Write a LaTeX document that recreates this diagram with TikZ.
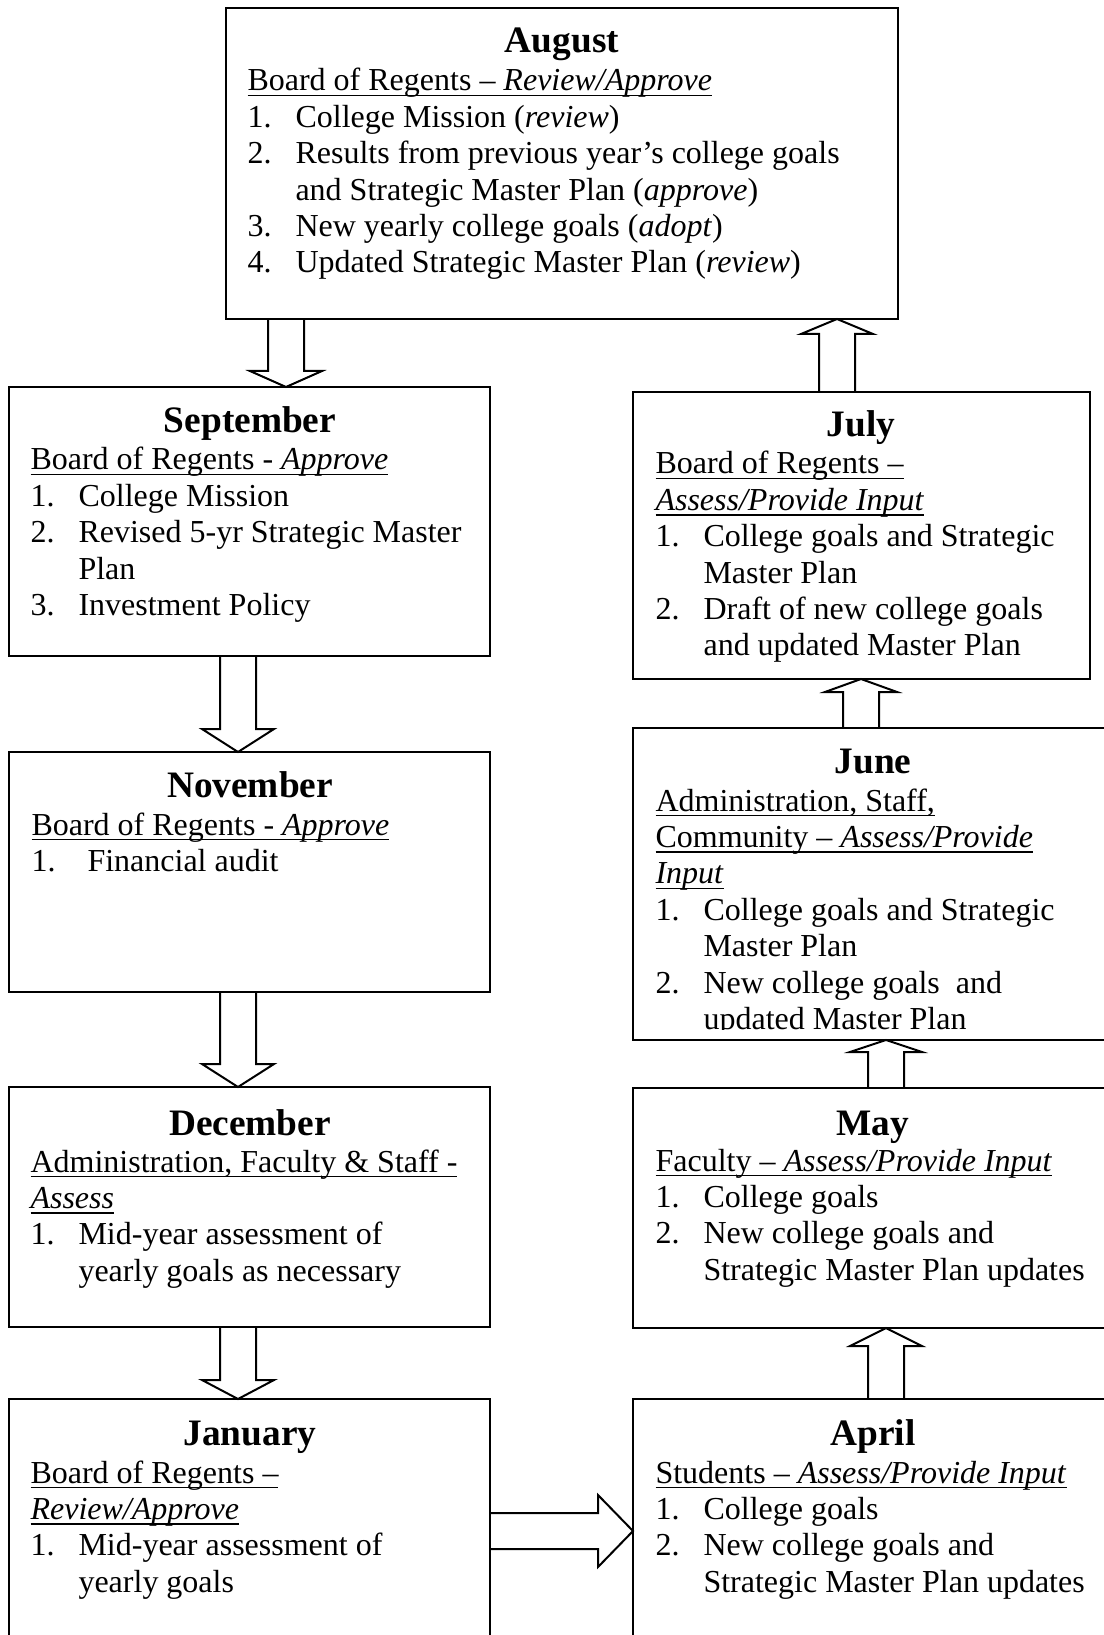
\documentclass[tikz,border=0pt]{standalone}
\usepackage{fontspec}
\setmainfont{Liberation Serif}
\usetikzlibrary{fit}

\newsavebox{\planulbox}
\newcommand{\planul}[1]{\leavevmode\sbox{\planulbox}{#1}\rlap{\rule[-2pt]{\wd\planulbox}{0.55pt}}\usebox{\planulbox}}
\newcommand{\listnum}[2]{\makebox[18pt][l]{#1}#2}
\newcommand{\listcont}[1]{\hspace*{18pt}#1}
\newcommand{\planlines}[1]{\parbox[t]{250pt}{#1}}

% hollow block arrows: start anchor, tip anchor, centre line, head length
\newcommand{\blockv}[4]{%
  \path (#2) ++(0,#4) coordinate (head_base);
  \draw[plan_arrow] ({#3-18},0 |- #1) -- ({#3-18},0 |- head_base) -- ({#3-36},0 |- head_base)
    -- ({#3},0 |- #2) -- ({#3+36},0 |- head_base) -- ({#3+18},0 |- head_base) -- ({#3+18},0 |- #1);}
\newcommand{\blockh}[4]{%
  \path (#2) ++(#4,0) coordinate (head_base);
  \draw[plan_arrow] (#1 |- 0,{#3-18}) -- (head_base |- 0,{#3-18}) -- (head_base |- 0,{#3-36})
    -- (#2 |- 0,#3) -- (head_base |- 0,{#3+36}) -- (head_base |- 0,{#3+18}) -- (#1 |- 0,{#3+18});}

\begin{document}
\begin{tikzpicture}[x=0.375pt, y=-0.375pt]
  \tikzstyle{plan_box}   = [draw = black, line width = 1pt, inner sep = 0pt, outer sep = 0pt]
  \tikzstyle{plan_title} = [anchor = base, inner sep = 0pt, font = \fontsize{14}{16}\selectfont\bfseries]
  \tikzstyle{plan_text}  = [anchor = base west, inner sep = 0pt, font = \fontsize{12}{13.65}\selectfont]
  \tikzstyle{plan_arrow} = [draw = black, line width = 0.75pt, line join = miter]

  \useasboundingbox (0,0) rectangle (1104,1635);
  \clip (0,0) rectangle (1104,1635);

  \node[plan_box, fit = {(226,8) (898,319)}] (aug) {};
  \node[plan_title] at (562, 53) (aug_ttl) {August};
  \node[plan_text]  at (247, 91) (aug_txt) {\planlines{%
    \planul{Board of Regents -- \textit{Review/Approve}}\\
    \listnum{1.}{College Mission (\textit{review})}\\
    \listnum{2.}{Results from previous year’s college goals}\\
    \listcont{and Strategic Master Plan (\textit{approve})}\\
    \listnum{3.}{New yearly college goals (\textit{adopt})}\\
    \listnum{4.}{Updated Strategic Master Plan (\textit{review})}}};

  \node[plan_box, fit = {(9,387) (490,656)}] (sep) {};
  \node[plan_title] at (250, 433) (sep_ttl) {September};
  \node[plan_text]  at (30, 470) (sep_txt) {\planlines{%
    \planul{Board of Regents - \textit{Approve}}\\
    \listnum{1.}{College Mission}\\
    \listnum{2.}{Revised 5-yr Strategic Master}\\
    \listcont{Plan}\\
    \listnum{3.}{Investment Policy}}};

  \node[plan_box, fit = {(9,752) (490,992)}] (nov) {};
  \node[plan_title] at (250, 797) (nov_ttl) {November};
  \node[plan_text]  at (31, 835) (nov_txt) {\planlines{%
    \planul{Board of Regents - \textit{Approve}}\\
    \makebox[21pt][l]{1.}Financial audit}};

  \node[plan_box, fit = {(9,1087) (490,1327)}] (dec) {};
  \node[plan_title] at (250, 1135) (dec_ttl) {December};
  \node[plan_text]  at (30, 1172) (dec_txt) {\planlines{%
    \planul{Administration, Faculty \& Staff -}\\
    \planul{\textit{Assess}}\\
    \listnum{1.}{Mid-year assessment of}\\
    \listcont{yearly goals as necessary}}};

  \node[plan_box, fit = {(9,1399) (490,1700)}] (jan) {};
  \node[plan_title] at (250, 1445) (jan_ttl) {January};
  \node[plan_text]  at (30, 1483) (jan_txt) {\planlines{%
    \planul{Board of Regents --}\\
    \planul{\textit{Review/Approve}}\\
    \listnum{1.}{Mid-year assessment of}\\
    \listcont{yearly goals}}};

  \node[plan_box, fit = {(633,1399) (1113,1700)}] (apr) {};
  \node[plan_title] at (873, 1445) (apr_ttl) {April};
  \node[plan_text]  at (655, 1483) (apr_txt) {\planlines{%
    \planul{Students -- \textit{Assess/Provide Input}}\\
    \listnum{1.}{College goals}\\
    \listnum{2.}{New college goals and}\\
    \listcont{Strategic Master Plan updates}}};

  \node[plan_box, fit = {(633,1088) (1113,1328)}] (may) {};
  \node[plan_title] at (873, 1135) (may_ttl) {May};
  \node[plan_text]  at (655, 1171) (may_txt) {\planlines{%
    \planul{Faculty -- \textit{Assess/Provide Input}}\\
    \listnum{1.}{College goals}\\
    \listnum{2.}{New college goals and}\\
    \listcont{Strategic Master Plan updates}}};

  \node[plan_box, fit = {(633,728) (1113,1040)}] (jun) {};
  \node[plan_title] at (873, 773) (jun_ttl) {June};
  \begin{scope}
    \clip (633,728) rectangle (1113,1029);
    \node[plan_text] at (655, 811) (jun_txt) {\planlines{%
      \planul{Administration, Staff,}\\
      \planul{Community -- \textit{Assess/Provide}}\\
      \planul{\textit{Input}}\\
      \listnum{1.}{College goals and Strategic}\\
      \listcont{Master Plan}\\
      \listnum{2.}{New college goals\ \ and}\\
      \listcont{updated Master Plan}}};
  \end{scope}

  \node[plan_box, fit = {(633,392) (1090,679)}] (jul) {};
  \node[plan_title] at (861, 437) (jul_ttl) {July};
  \node[plan_text]  at (655, 474) (jul_txt) {\planlines{%
    \planul{Board of Regents --}\\
    \planul{\textit{Assess/Provide Input}}\\
    \listnum{1.}{College goals and Strategic}\\
    \listcont{Master Plan}\\
    \listnum{2.}{Draft of new college goals}\\
    \listcont{and updated Master Plan}}};

  \blockv{aug.south}{sep.north}{286}{-16}
  \blockv{sep.south}{nov.north}{238}{-23}
  \blockv{nov.south}{dec.north}{238}{-23}
  \blockv{dec.south}{jan.north}{238}{-19}
  \blockh{jan.east}{apr.west}{1531}{-35}
  \blockv{apr.north}{may.south}{886}{18}
  \blockv{may.north}{jun.south}{886}{12}
  \blockv{jun.north}{jul.south}{861}{13}
  \blockv{jul.north}{aug.south}{837}{15}

\end{tikzpicture}
\end{document}
